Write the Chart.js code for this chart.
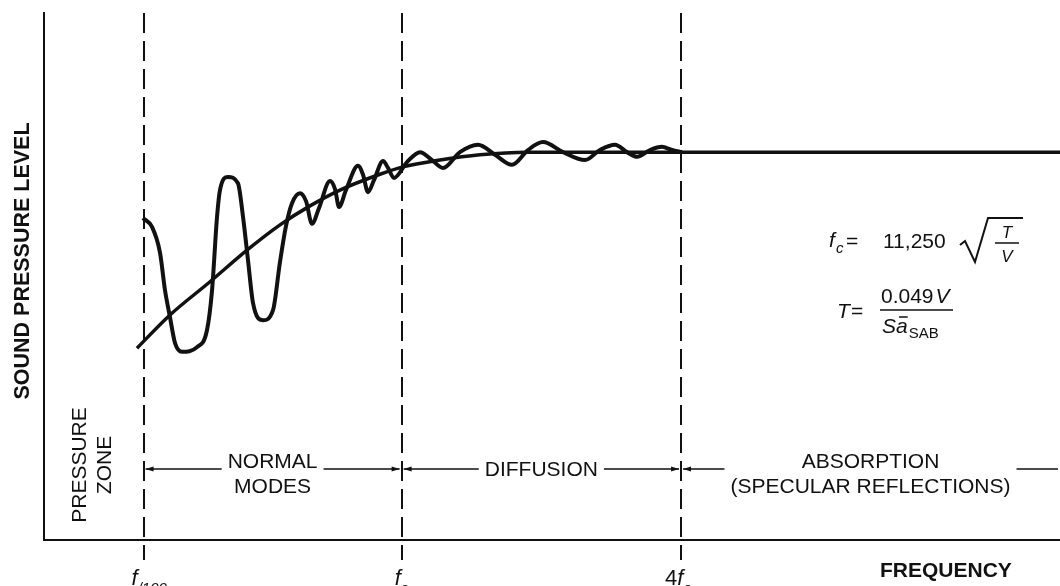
<!DOCTYPE html>
<html>
<head>
<meta charset="utf-8">
<script src="https://cdn.jsdelivr.net/npm/chart.js@4.4.0/dist/chart.umd.min.js"></script>
<style>
  html, body { margin: 0; padding: 0; background: #fff; }
  #wrap { width: 1060px; height: 586px; }
</style>
</head>
<body>
<div id="wrap"><canvas id="chart" width="1060" height="586"></canvas></div>
<script>
// frequency axis runs 0..1000 (relative units), level axis 0..100
const tickPos = [98, 352, 627]
const tickLabels = [['', 'f', '/100'], ['', 'f', 'c'], ['4', 'f', 'c']]
const regionLabels = [['NORMAL', 'MODES'], ['DIFFUSION'], ['ABSORPTION', '(SPECULAR REFLECTIONS)']]
const regionLevel = 13.5

// smooth average response
const meanX = [91.5, 124.0, 163.4, 199.8, 232.3, 261.8, 291.3, 330.7, 353.3, 389.8, 429.1, 475.4, 627.0, 1000]
const meanY = [36.4, 42.7, 49.0, 55.0, 59.8, 63.4, 66.4, 69.4, 70.8, 72.1, 73.1, 73.6, 73.6, 73.6]

// room mode response
const modeX = [97.4, 106.3, 114.2, 119.1, 124.0, 128.9, 135.8, 150.6, 160.4, 165.4, 170.3, 173.2, 181.1, 190.9,
    195.9, 200.8, 205.7, 215.6, 225.4, 232.3, 238.2, 244.1, 252.0, 257.9, 263.8, 270.7, 281.5, 286.4, 290.4,
    297.2, 309.1, 314.0, 318.9, 324.8, 333.7, 338.6, 344.5, 357.3, 370.1, 381.9, 392.7, 409.4, 427.2, 443.9,
    460.6, 476.4, 491.1, 510.8, 532.5, 547.2, 562.0, 573.8, 583.7, 596.5, 608.3, 618.1, 628.0]
const modeY = [61.1, 59.4, 54.5, 47.4, 42.3, 37.4, 35.7, 36.6, 39.8, 47.4, 61.3, 66.4, 68.9, 67.7,
    61.3, 53.1, 45.0, 41.7, 43.6, 52.8, 59.6, 63.9, 65.8, 64.3, 60.0, 63.0, 68.1, 66.6, 63.2,
    66.4, 71.0, 69.3, 66.0, 68.3, 71.9, 70.6, 68.7, 71.7, 73.6, 72.1, 70.6, 73.6, 75.0, 73.1,
    71.2, 74.0, 75.5, 73.6, 72.1, 74.0, 75.0, 73.6, 72.7, 74.0, 74.6, 74.0, 73.6]

const ink = '#111'
const sans = '"Liberation Sans", Arial, Helvetica, sans-serif'

function toPoints(xs, ys) {
    return xs.map((x, i) => {
        return { x: x, y: ys[i] }
    })
}

function arrowHead(ctx, x, y, dir) {
    ctx.beginPath()
    ctx.moveTo(x, y)
    ctx.lineTo(x - dir * 8, y - 2.5)
    ctx.lineTo(x - dir * 8, y + 2.5)
    ctx.closePath()
    ctx.fill()
}

const dashedLines = {
    id: 'dashedLines',
    beforeDatasetsDraw(chart) {
        const ctx = chart.ctx
        const area = chart.chartArea
        const xs = chart.scales.x
        ctx.save()
        ctx.strokeStyle = ink
        ctx.lineWidth = 2
        ctx.setLineDash([20, 8])
        tickPos.map((v) => {
            let px = Math.round(xs.getPixelForValue(v))
            ctx.beginPath()
            ctx.moveTo(px, area.top)
            ctx.lineTo(px, area.bottom + 20)
            ctx.stroke()
        })
        ctx.restore()
    }
}

const annotations = {
    id: 'annotations',
    afterDraw(chart) {
        const ctx = chart.ctx
        const area = chart.chartArea
        const xs = chart.scales.x
        const ys = chart.scales.y
        ctx.save()
        ctx.fillStyle = ink
        ctx.strokeStyle = ink

        // y axis title
        ctx.save()
        ctx.translate(23, 261)
        ctx.rotate(-Math.PI / 2)
        ctx.font = 'bold 21.5px ' + sans
        ctx.textAlign = 'center'
        ctx.textBaseline = 'middle'
        ctx.fillText('SOUND PRESSURE LEVEL', 0, 0)
        ctx.restore()

        // pressure zone
        ctx.save()
        ctx.translate(80, 465)
        ctx.rotate(-Math.PI / 2)
        ctx.font = '21px ' + sans
        ctx.textAlign = 'center'
        ctx.textBaseline = 'middle'
        ctx.fillText('PRESSURE', 0, 0)
        ctx.fillText('ZONE', 0, 25)
        ctx.restore()

        // region arrows
        let ly = Math.round(ys.getPixelForValue(regionLevel))
        ctx.font = '21px ' + sans
        ctx.textAlign = 'center'
        ctx.lineWidth = 1.5
        regionLabels.map((lines, i) => {
            let left = xs.getPixelForValue(tickPos[i])
            let right = i < tickPos.length - 1 ? xs.getPixelForValue(tickPos[i + 1]) : area.right
            let mid = (left + right) / 2
            let w = Math.max(...lines.map((t) => ctx.measureText(t).width))
            ctx.beginPath()
            ctx.moveTo(left + 2, ly)
            ctx.lineTo(mid - w / 2 - 6, ly)
            ctx.moveTo(mid + w / 2 + 6, ly)
            ctx.lineTo(right - 2, ly)
            ctx.stroke()
            arrowHead(ctx, left + 2, ly, -1)
            if (i < tickPos.length - 1) arrowHead(ctx, right - 2, ly, 1)
            if (lines.length == 1) {
                ctx.textBaseline = 'middle'
                ctx.fillText(lines[0], mid, ly + 1)
            } else {
                ctx.textBaseline = 'alphabetic'
                ctx.fillText(lines[0], mid, ly - 1)
                ctx.fillText(lines[1], mid, ly + 24)
            }
        })

        // frequency tick labels
        ctx.textAlign = 'left'
        ctx.textBaseline = 'alphabetic'
        const offsets = [-12, -7, -16]
        tickLabels.map((lab, i) => {
            let px = xs.getPixelForValue(tickPos[i]) + offsets[i]
            if (lab[0]) {
                ctx.font = '22px ' + sans
                ctx.fillText(lab[0], px, 585)
                px += ctx.measureText(lab[0]).width
            }
            ctx.font = 'italic 22px ' + sans
            ctx.fillText(lab[1], px, 585)
            px += ctx.measureText(lab[1]).width
            ctx.font = 'italic 15px ' + sans
            ctx.fillText(lab[2], px, 593)
        })

        // x axis title
        ctx.font = 'bold 21px ' + sans
        ctx.fillText('FREQUENCY', 880, 577)

        // formulas
        ctx.font = 'italic 21px ' + sans
        ctx.fillText('f', 829, 247)
        ctx.font = 'italic 15px ' + sans
        ctx.fillText('c', 836, 253)
        ctx.font = '21px ' + sans
        ctx.fillText('=', 846, 248)
        ctx.fillText('11,250', 883, 248)
        ctx.lineWidth = 2
        ctx.beginPath()
        ctx.moveTo(960, 245)
        ctx.lineTo(965, 241)
        ctx.lineTo(975, 262)
        ctx.lineTo(988, 218)
        ctx.lineTo(1023, 218)
        ctx.stroke()
        ctx.lineWidth = 1.5
        ctx.beginPath()
        ctx.moveTo(995, 243)
        ctx.lineTo(1019, 243)
        ctx.stroke()
        ctx.font = 'italic 17px ' + sans
        ctx.textAlign = 'center'
        ctx.fillText('T', 1007, 238)
        ctx.fillText('V', 1007, 262)

        ctx.textAlign = 'left'
        ctx.font = 'italic 21px ' + sans
        ctx.fillText('T', 837, 318)
        ctx.font = '21px ' + sans
        ctx.fillText('=', 851, 318)
        ctx.fillText('0.049', 881, 303)
        let nx = 881 + ctx.measureText('0.049').width + 2
        ctx.font = 'italic 21px ' + sans
        ctx.fillText('V', nx, 303)
        ctx.beginPath()
        ctx.moveTo(880, 310)
        ctx.lineTo(953, 310)
        ctx.stroke()
        ctx.fillText('S', 882, 333)
        let ax = 882 + ctx.measureText('S').width
        ctx.fillText('a', ax, 333)
        let aw = ctx.measureText('a').width
        ctx.lineWidth = 1.5
        ctx.beginPath()
        ctx.moveTo(ax + 3, 317)
        ctx.lineTo(ax + aw, 317)
        ctx.stroke()
        ctx.font = '15px ' + sans
        ctx.fillText('SAB', ax + aw + 1, 338)

        ctx.restore()
    }
}

new Chart(document.getElementById('chart'), {
    type: 'line',
    data: {
        datasets: [{
            label: 'Average',
            data: toPoints(meanX, meanY),
            borderColor: ink,
            borderWidth: 3.5,
            pointRadius: 0,
            cubicInterpolationMode: 'monotone',
            fill: false
        }, {
            label: 'Modes',
            data: toPoints(modeX, modeY),
            borderColor: ink,
            borderWidth: 4,
            pointRadius: 0,
            cubicInterpolationMode: 'monotone',
            fill: false
        }]
    },
    options: {
        responsive: false,
        animation: false,
        layout: { padding: { left: 44, top: 13, right: 0, bottom: 46 } },
        plugins: { legend: { display: false }, tooltip: { enabled: false } },
        scales: {
            x: {
                type: 'linear', min: 0, max: 1000,
                grid: { display: false, drawTicks: false, tickLength: 0 },
                ticks: { display: false },
                border: { display: true, color: ink, width: 2 }
            },
            y: {
                min: 0, max: 100,
                grid: { display: false, drawTicks: false, tickLength: 0 },
                ticks: { display: false },
                border: { display: true, color: ink, width: 2 }
            }
        }
    },
    plugins: [dashedLines, annotations]
})
</script>
</body>
</html>
